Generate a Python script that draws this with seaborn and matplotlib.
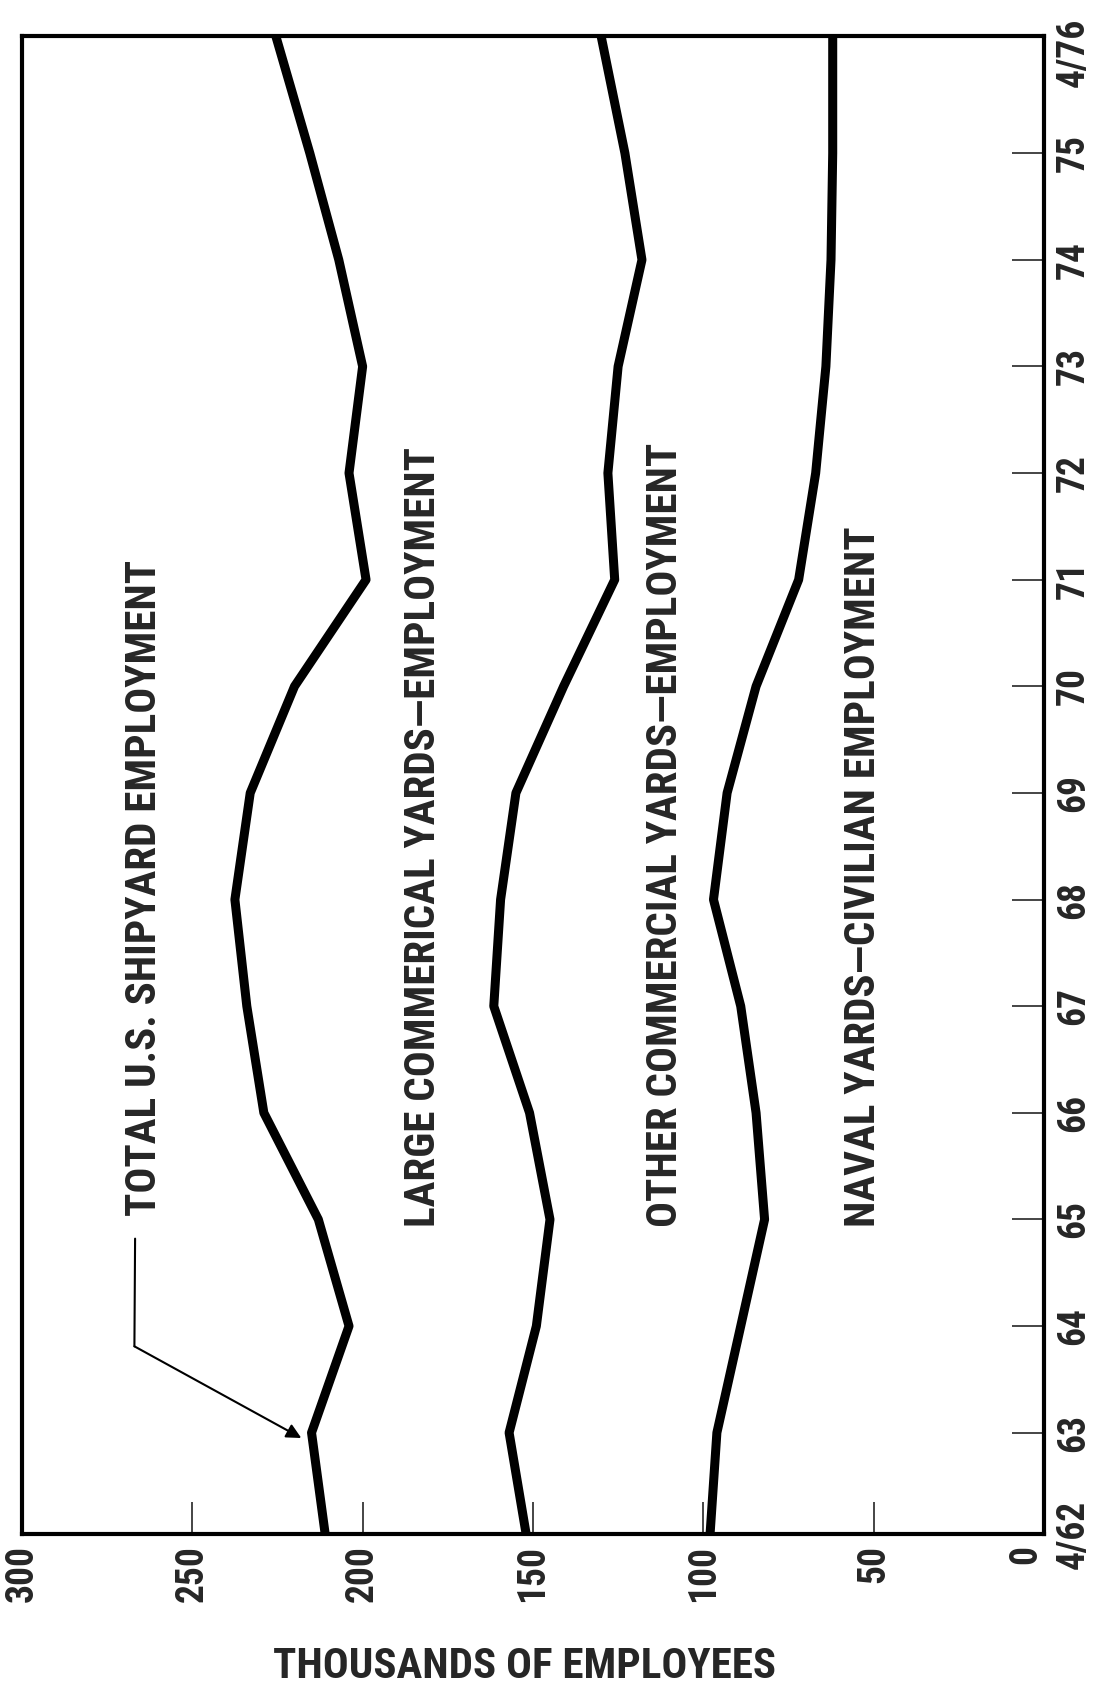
# %%
import numpy as np
import pandas as pd
import seaborn as sns
from matplotlib import pyplot as plt
from matplotlib import font_manager

# %% Data (thousands of employees)
years = [62.05, 63, 64, 65, 66, 67, 68, 69, 70, 71, 72, 73, 74, 75, 76.1]
total = [211, 215, 204, 213, 229, 234, 237.5, 233, 220, 199, 204, 200, 207, 215.5, 225.5]
naval_other = [152, 157, 149, 145, 151, 161.5, 159.5, 155, 141, 126, 128, 125, 118, 123, 130]
naval = [98, 96, 89, 82, 84.5, 89, 97, 93, 84.5, 72, 67, 64, 62.5, 62, 62]

value_ticks = [0, 50, 100, 150, 200, 250, 300]
year_ticks = [62.05, 63, 64, 65, 66, 67, 68, 69, 70, 71, 72, 73, 74, 75, 75.95]
year_labels = ["4/62", "63", "64", "65", "66", "67", "68", "69", "70",
               "71", "72", "73", "74", "75", "4/76"]

labels = ["TOTAL U.S. SHIPYARD EMPLOYMENT",
          "LARGE COMMERICAL YARDS\u2014EMPLOYMENT",
          "OTHER COMMERCIAL YARDS\u2014EMPLOYMENT",
          "NAVAL YARDS\u2014CIVILIAN EMPLOYMENT"]
label_x = [264, 182, 111, 53]
label_y = [65.03, 64.93, 64.93, 64.93]

# %% Setup - look for a narrow bold face
sns.set_style("white")
fonts = font_manager.fontManager.ttflist
names = {f.name for f in fonts}
stretch = "normal"
scale = 1.0
if "Liberation Sans Narrow" in names:
    family = "Liberation Sans Narrow"
elif "Roboto Condensed" in names:
    family = "Roboto Condensed"
elif any(f.name == "DejaVu Sans" and f.stretch == "condensed" for f in fonts):
    family = "DejaVu Sans"
    stretch = "condensed"
    scale = 0.86
else:
    family = "DejaVu Sans"
    scale = 0.8
plt.rcParams["font.family"] = [family, "DejaVu Sans"]
plt.rcParams["font.weight"] = "bold"
plt.rcParams["font.stretch"] = stretch

fig = plt.figure(figsize=(11, 16.87), dpi=100)
ax = fig.add_axes([0.02, 0.0907, 0.929, 0.888])

df = pd.DataFrame({"year": years, "total": total,
                   "naval_other": naval_other, "naval": naval})
for col in ["total", "naval_other", "naval"]:
    sns.lineplot(data=df, x=col, y="year", orient="y", color="black",
                 lw=6.5, ax=ax, solid_joinstyle="round")

ax.set_xlim(300, 0)
ax.set_ylim(62.05, 76.1)

ax.set_xticks(value_ticks)
ax.set_xticklabels([str(v) for v in value_ticks], rotation=90,
                   fontsize=27 * scale)
ax.get_xticklabels()[0].set_ha("right")
ax.yaxis.tick_right()
ax.set_yticks(year_ticks)
ax.set_yticklabels(year_labels, rotation=90, va="center", fontsize=27 * scale)
ax.tick_params(axis="x", direction="in", length=23, width=1.2, pad=8,
               bottom=True, top=False)
ax.tick_params(axis="y", direction="in", length=23, width=1.2, pad=8,
               right=True, left=False)
# no tick mark at the 4/76 label
ax.yaxis.get_major_ticks()[-1].tick2line.set_visible(False)
ax.set_xlabel("")
ax.set_ylabel("")
for s in ax.spines.values():
    s.set_linewidth(3)
    s.set_color("black")

# %% Band labels
for txt, x, y in zip(labels, label_x, label_y):
    ax.text(x, y, txt, rotation=90, ha="center", va="bottom",
            fontsize=31 * scale)

# leader from TOTAL label to its line
ax.plot([266.8, 267], [64.82, 63.81], color="black", lw=1.5)
ax.annotate("", xy=(218, 62.95), xytext=(267, 63.81),
            arrowprops=dict(arrowstyle="-|>", lw=1.5, color="black",
                            mutation_scale=22, shrinkA=0, shrinkB=0))

fig.text(0.477, 0.012, "THOUSANDS OF EMPLOYEES", ha="center", va="center",
         fontsize=31 * scale)

plt.savefig("out.png", dpi=100)
